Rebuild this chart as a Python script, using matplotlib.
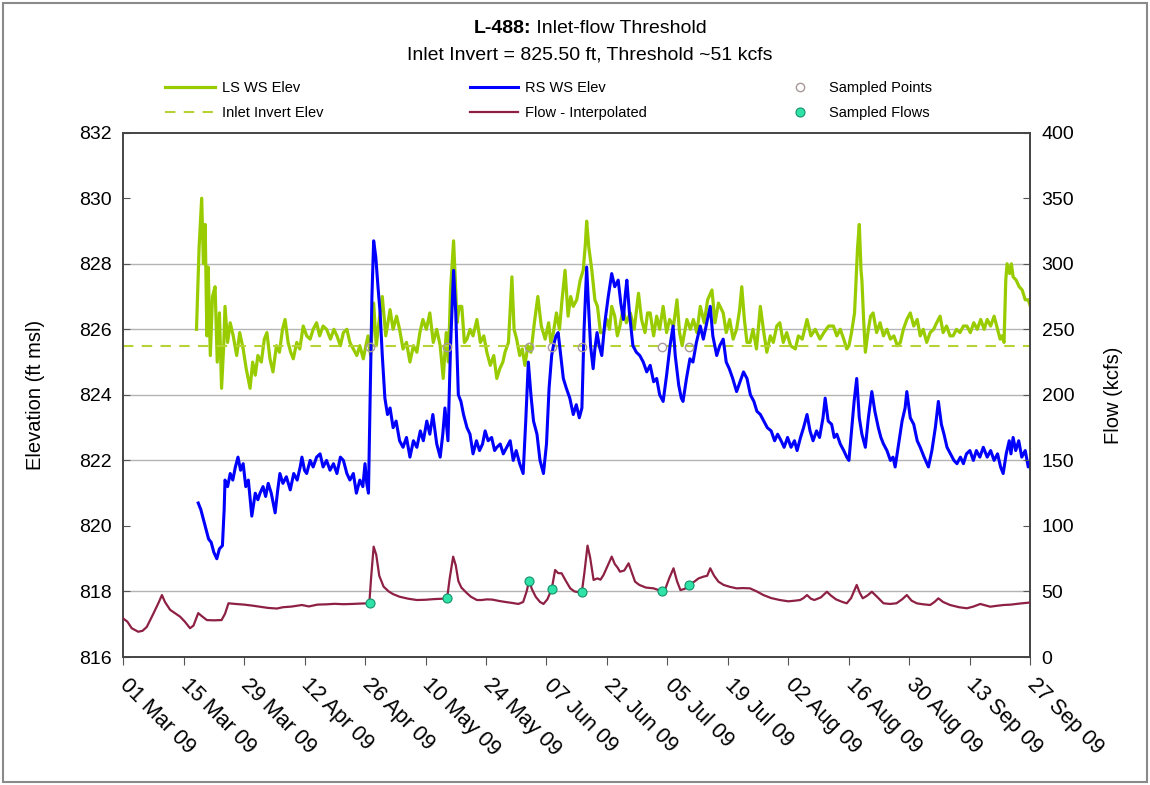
import numpy as np
import pandas as pd
import matplotlib
matplotlib.use('Agg')
import matplotlib.pyplot as plt
import matplotlib.dates as mdates
from matplotlib.patches import Rectangle

plt.rcParams['font.family'] = ['Liberation Sans', 'DejaVu Sans']

# day offsets are counted from 01 Mar 2009
start = pd.Timestamp('2009-03-01')

# LS WS Elev (ft msl) : (day, elevation)
ls_points = [
    (17.0, 826.0), (17.6, 828.5), (18.2, 830.0), (18.6, 828.0), (19.0, 829.2), (19.4, 825.8),
    (19.7, 827.9), (20.2, 825.2), (20.7, 827.0), (21.3, 827.3), (21.8, 825.0), (22.3, 826.5),
    (22.8, 824.2), (23.3, 825.5), (23.6, 826.7), (24.2, 825.6), (24.8, 826.2), (25.5, 825.8),
    (26.3, 825.2), (27.0, 825.9), (27.8, 825.4), (28.5, 824.8), (29.4, 824.2), (30.0, 825.0),
    (30.6, 824.6), (31.2, 825.2), (32.0, 825.0), (32.7, 825.7), (33.3, 825.9), (34.0, 825.1),
    (34.7, 824.7), (35.5, 825.5), (36.2, 825.3), (36.9, 826.0), (37.5, 826.3), (38.2, 825.6),
    (38.8, 825.3), (39.4, 825.1), (40.2, 825.6), (40.9, 825.4), (41.7, 826.1), (42.5, 825.8),
    (43.3, 825.7), (44.0, 826.0), (44.8, 826.2), (45.5, 825.8), (46.3, 826.1), (47.1, 826.0),
    (48.0, 825.7), (48.8, 826.0), (49.5, 825.8), (50.3, 825.5), (51.0, 825.9), (51.8, 826.0),
    (52.5, 825.6), (53.3, 825.4), (54.1, 825.2), (54.8, 825.5), (55.6, 825.1), (56.2, 825.5),
    (56.7, 825.8), (57.3, 825.2), (58.0, 826.8), (58.6, 825.5), (59.3, 826.3), (60.0, 827.0),
    (60.8, 825.8), (61.8, 826.6), (62.5, 826.0), (63.3, 826.4), (64.0, 826.0), (64.8, 825.4),
    (65.6, 825.6), (66.4, 825.0), (67.2, 825.5), (68.0, 825.3), (68.7, 825.9), (69.4, 826.3),
    (70.2, 826.0), (71.0, 826.5), (71.8, 825.6), (72.6, 826.0), (73.4, 825.5), (74.1, 824.5),
    (74.8, 825.9), (75.3, 825.0), (75.8, 827.2), (76.5, 828.7), (76.9, 827.5), (77.3, 826.2),
    (77.8, 826.7), (78.4, 826.7), (79.0, 825.6), (79.6, 825.7), (80.3, 826.0), (81.0, 825.8),
    (81.9, 826.3), (82.7, 825.6), (83.5, 825.8), (84.2, 825.3), (85.0, 824.9), (85.8, 825.2),
    (86.5, 824.5), (87.2, 824.8), (87.9, 825.0), (88.4, 825.3), (89.2, 825.6), (90.0, 827.6),
    (90.5, 826.0), (91.1, 825.7), (91.8, 825.2), (92.4, 825.4), (93.0, 824.9), (93.7, 825.5),
    (94.4, 825.3), (95.2, 826.2), (96.0, 827.0), (96.8, 826.1), (97.7, 825.7), (98.5, 826.2),
    (99.0, 825.6), (99.6, 825.9), (100.3, 826.5), (101.0, 826.0), (101.6, 826.9), (102.3, 827.8),
    (103.0, 826.4), (103.6, 827.0), (104.2, 826.7), (105.0, 826.9), (105.8, 827.5), (106.5, 827.8),
    (107.0, 828.6), (107.3, 829.3), (107.8, 828.5), (108.5, 827.8), (109.2, 826.9), (109.8, 826.7),
    (110.5, 825.9), (111.2, 825.9), (112.0, 826.3), (112.6, 826.0), (113.1, 826.7), (113.8, 826.4),
    (114.4, 825.8), (115.0, 826.1), (115.7, 826.6), (116.5, 826.2), (117.4, 826.5), (118.3, 826.0),
    (119.3, 827.1), (120.0, 826.3), (120.8, 825.9), (121.4, 826.5), (122.0, 826.5), (122.8, 825.8),
    (123.5, 826.4), (124.2, 826.0), (125.0, 826.7), (125.8, 825.9), (126.5, 826.3), (127.4, 826.1),
    (128.2, 826.9), (128.8, 825.9), (129.4, 825.5), (130.5, 826.3), (131.3, 826.0), (132.0, 826.3),
    (132.8, 825.9), (133.6, 826.7), (134.5, 826.2), (135.3, 826.9), (136.3, 827.2), (137.0, 826.2),
    (137.8, 826.8), (138.9, 826.5), (139.6, 825.9), (140.4, 826.3), (141.2, 825.7), (142.0, 826.0),
    (142.7, 826.6), (143.2, 827.3), (143.8, 826.3), (144.4, 825.6), (145.1, 825.6), (145.8, 826.0),
    (146.6, 825.4), (147.5, 826.7), (148.3, 825.9), (149.0, 825.3), (149.8, 825.8), (150.5, 825.6),
    (151.3, 826.1), (152.0, 826.2), (152.8, 825.6), (153.6, 825.9), (154.5, 825.5), (155.6, 825.4),
    (156.3, 825.8), (157.2, 825.7), (158.3, 826.3), (159.2, 825.8), (160.2, 826.0), (161.3, 825.7),
    (162.2, 825.9), (163.3, 826.1), (164.4, 826.1), (165.2, 825.8), (166.0, 826.0), (166.8, 825.7),
    (167.5, 825.4), (168.0, 825.5), (168.6, 825.9), (169.3, 826.5), (170.0, 828.5), (170.4, 829.2),
    (170.8, 827.8), (171.0, 827.5), (171.4, 826.3), (171.8, 825.3), (172.5, 826.0), (173.0, 826.4),
    (173.6, 826.5), (174.4, 825.9), (175.2, 826.2), (176.0, 825.8), (176.8, 826.0), (177.6, 825.7),
    (178.4, 825.8), (179.2, 825.5), (179.9, 825.6), (180.6, 826.0), (181.4, 826.3), (182.2, 826.5),
    (183.0, 826.1), (183.8, 826.3), (184.5, 825.8), (185.2, 826.0), (186.0, 825.6), (186.8, 825.9),
    (187.6, 826.0), (188.3, 826.2), (189.1, 826.4), (189.8, 825.9), (190.6, 826.1), (191.4, 825.8),
    (192.1, 825.8), (192.9, 826.0), (193.7, 825.9), (194.5, 826.1), (195.3, 826.1), (196.1, 825.9),
    (196.9, 826.2), (197.7, 826.0), (198.5, 826.3), (199.3, 826.0), (200.0, 826.3), (200.8, 826.1),
    (201.6, 826.4), (202.4, 826.0), (203.0, 825.7), (203.4, 825.8), (203.9, 825.6), (204.3, 827.5),
    (204.6, 828.0), (205.2, 827.7), (205.6, 828.0), (206.0, 827.6), (206.7, 827.5), (207.4, 827.3),
    (208.1, 827.2), (208.8, 826.9), (209.5, 826.9), (210.0, 826.7),
]

# RS WS Elev (ft msl) : (day, elevation)
rs_points = [
    (17.4, 820.7), (18.0, 820.5), (18.6, 820.2), (19.2, 819.9), (19.8, 819.6), (20.4, 819.5),
    (21.0, 819.2), (21.7, 819.0), (22.3, 819.3), (23.0, 819.4), (23.4, 820.5), (23.6, 821.4),
    (24.2, 821.2), (24.8, 821.6), (25.4, 821.4), (26.0, 821.8), (26.6, 822.1), (27.2, 821.7),
    (27.8, 821.9), (28.4, 821.2), (29.0, 821.4), (29.8, 820.3), (30.6, 821.0), (31.2, 820.8),
    (31.7, 821.0), (32.4, 821.2), (33.0, 820.9), (33.6, 821.3), (34.3, 821.0), (35.2, 820.4),
    (35.8, 821.1), (36.3, 821.6), (37.0, 821.3), (37.8, 821.5), (38.7, 821.1), (39.5, 821.6),
    (40.3, 821.4), (41.0, 821.8), (41.4, 822.1), (42.0, 821.7), (42.5, 821.6), (43.3, 822.0),
    (44.0, 821.8), (44.8, 822.1), (45.6, 822.2), (46.3, 821.8), (47.1, 822.0), (47.9, 821.7),
    (48.7, 821.9), (49.5, 821.6), (50.3, 822.1), (51.0, 822.0), (51.8, 821.6), (52.5, 821.4),
    (53.3, 821.6), (54.0, 821.0), (54.8, 821.4), (55.5, 821.2), (56.0, 821.9), (56.4, 821.3),
    (56.8, 821.0), (57.2, 824.0), (57.6, 827.0), (58.0, 828.7), (58.5, 828.2), (59.0, 827.3),
    (59.5, 826.5), (60.0, 825.2), (60.6, 823.9), (61.2, 823.4), (61.8, 823.6), (62.5, 823.0),
    (63.2, 823.2), (64.0, 822.6), (64.8, 822.4), (65.6, 822.7), (66.4, 822.1), (67.2, 822.6),
    (68.0, 822.4), (68.8, 822.9), (69.5, 822.6), (70.3, 823.2), (71.0, 822.8), (71.7, 823.4),
    (72.6, 822.5), (73.4, 822.1), (74.0, 822.8), (74.5, 823.6), (75.2, 822.6), (75.8, 825.5),
    (76.5, 827.8), (77.0, 826.5), (77.6, 824.0), (78.2, 823.8), (78.8, 823.4), (79.6, 823.0),
    (80.3, 822.8), (81.0, 822.2), (81.8, 822.6), (82.5, 822.3), (83.2, 822.5), (83.8, 822.9),
    (84.5, 822.6), (85.3, 822.7), (86.0, 822.3), (86.5, 822.4), (87.3, 822.5), (88.0, 822.2),
    (88.8, 822.4), (89.6, 822.6), (90.3, 822.0), (91.0, 822.3), (91.8, 821.9), (92.6, 821.6),
    (93.2, 823.2), (93.8, 825.0), (94.4, 824.0), (95.0, 823.2), (95.8, 822.8), (96.5, 822.0),
    (97.3, 821.6), (98.0, 822.5), (98.6, 824.2), (99.2, 825.2), (99.6, 825.5), (100.2, 825.8),
    (100.7, 825.9), (101.3, 825.2), (101.9, 824.5), (102.6, 824.2), (103.4, 823.9), (104.2, 823.4),
    (104.9, 823.7), (105.6, 823.3), (106.2, 823.6), (106.7, 826.0), (107.3, 827.9), (107.7, 826.8),
    (108.2, 825.5), (108.8, 824.8), (109.2, 825.4), (109.7, 825.9), (110.2, 825.5), (110.8, 825.2),
    (111.5, 826.2), (112.3, 827.0), (113.1, 827.7), (113.8, 827.3), (114.6, 827.5), (115.2, 826.8),
    (115.8, 826.3), (116.2, 827.0), (116.6, 827.5), (117.2, 826.5), (118.0, 825.5), (118.8, 825.3),
    (119.6, 825.2), (120.4, 825.0), (121.2, 824.7), (122.0, 824.9), (122.8, 824.4), (123.5, 824.5),
    (124.2, 824.0), (125.0, 823.8), (125.8, 824.6), (126.6, 825.5), (127.3, 826.1), (127.8, 825.2),
    (128.6, 824.3), (129.2, 823.9), (129.6, 823.8), (130.4, 824.5), (131.2, 825.1), (131.9, 825.0),
    (132.7, 825.6), (133.6, 826.1), (134.3, 825.7), (135.1, 826.2), (135.9, 826.7), (136.5, 825.8),
    (137.4, 825.2), (138.1, 825.5), (138.9, 825.7), (139.6, 825.0), (140.3, 824.8), (141.1, 824.5),
    (142.0, 824.1), (142.8, 824.4), (143.6, 824.7), (144.4, 824.5), (145.2, 824.0), (146.0, 823.8),
    (146.7, 823.5), (147.5, 823.4), (148.3, 823.2), (149.1, 823.0), (150.0, 822.9), (150.8, 822.6),
    (151.5, 822.8), (152.3, 822.6), (153.0, 822.4), (153.8, 822.7), (154.6, 822.4), (155.4, 822.6),
    (156.0, 822.3), (156.8, 822.7), (157.5, 823.0), (158.3, 823.4), (159.0, 822.9), (159.7, 822.6),
    (160.5, 822.9), (161.2, 822.7), (162.0, 823.3), (162.5, 823.9), (163.2, 823.2), (164.0, 823.1),
    (164.6, 822.7), (165.2, 822.8), (166.0, 822.5), (166.8, 822.3), (167.5, 822.1), (168.0, 822.0),
    (168.6, 822.9), (169.2, 823.8), (169.8, 824.5), (170.4, 823.3), (171.0, 822.8), (171.8, 822.4),
    (172.5, 823.3), (173.3, 824.1), (174.0, 823.5), (174.8, 823.0), (175.4, 822.7), (176.0, 822.5),
    (176.8, 822.3), (177.6, 822.0), (178.2, 822.1), (178.7, 821.8), (179.5, 822.5), (180.3, 823.2),
    (181.0, 823.6), (181.4, 824.1), (182.2, 823.3), (183.0, 823.1), (183.8, 822.6), (184.5, 822.4),
    (185.4, 822.1), (186.4, 821.8), (187.2, 822.3), (188.0, 823.0), (188.7, 823.8), (189.4, 823.1),
    (190.0, 822.8), (190.7, 822.4), (191.5, 822.2), (192.3, 822.0), (193.0, 821.9), (193.8, 822.1),
    (194.5, 821.9), (195.2, 822.2), (196.0, 822.3), (196.8, 822.0), (197.5, 822.3), (198.3, 822.1),
    (199.1, 822.4), (200.0, 822.1), (200.8, 822.3), (201.6, 822.0), (202.4, 822.2), (203.1, 821.8),
    (203.7, 821.6), (204.4, 822.2), (205.1, 822.6), (205.5, 822.2), (206.0, 822.7), (206.6, 822.3),
    (207.3, 822.6), (208.0, 822.1), (208.8, 822.3), (209.5, 821.8), (210.0, 822.0),
]

# Flow - Interpolated (kcfs) : (day, flow)
flow_points = [
    (0.0, 29.5), (1.0, 27), (2.0, 22), (3.5, 19.3), (4.5, 20), (5.5, 23), (7.0, 33), (8.3, 42),
    (9.0, 47.3), (9.7, 42), (10.9, 36), (12.0, 33.5), (13.2, 30.8), (14.3, 27), (15.5, 22),
    (16.3, 24), (17.4, 33.5), (18.3, 31), (19.4, 28.2), (21.0, 28), (22.8, 28.2), (23.6, 33),
    (24.4, 41), (26.0, 40.5), (28.0, 40), (30.0, 39.2), (31.7, 38.4), (33.5, 37.5), (35.6, 37),
    (37.0, 38), (39.0, 38.5), (41.4, 39.7), (43.0, 38.6), (45.0, 40), (47.0, 40.2), (49.0, 40.6),
    (51.0, 40.3), (53.0, 40.5), (55.0, 40.8), (57.0, 41), (57.4, 60), (58.0, 84.2), (58.6, 78),
    (59.3, 62), (60.3, 53.7), (61.5, 50), (62.5, 48), (64.0, 46), (66.0, 44.5), (68.0, 43.5),
    (70.0, 43.7), (72.0, 44.2), (74.0, 44.5), (75.0, 44.8), (75.6, 60), (76.4, 76.6), (77.0, 70),
    (77.6, 58), (78.3, 53), (79.5, 49), (80.5, 46), (81.9, 43.5), (83.0, 43.5), (84.2, 44),
    (85.5, 43.8), (87.0, 42.8), (88.5, 42), (90.0, 41.3), (91.5, 40.5), (92.6, 42), (93.4, 50),
    (94.0, 58.3), (94.6, 52), (95.5, 46), (96.5, 42), (97.3, 40.5), (98.2, 44), (99.2, 51.7),
    (100.0, 66.4), (100.7, 64), (101.5, 63.9), (102.5, 58), (103.5, 52.4), (104.5, 50),
    (105.5, 49.5), (106.2, 49.8), (106.8, 65), (107.5, 85), (108.1, 76), (108.9, 58.8),
    (109.8, 60), (110.5, 59), (111.2, 62.6), (112.2, 70), (113.1, 76.6), (113.8, 71), (114.5, 68),
    (115.0, 65.1), (116.0, 66), (117.0, 71.5), (117.8, 64), (118.5, 57.5), (119.5, 55),
    (121.0, 53), (122.8, 52.4), (124.0, 51), (124.7, 49.8), (125.5, 52), (126.4, 60),
    (127.4, 67.7), (128.2, 58), (129.0, 51.1), (130.0, 52), (130.9, 55), (132.0, 57), (133.2, 60),
    (134.3, 61.3), (135.2, 62), (135.9, 67.7), (136.8, 62), (137.8, 57.5), (139.0, 55),
    (140.5, 53.5), (142.0, 52.4), (143.5, 52.6), (145.1, 52.4), (146.7, 50), (148.2, 47.3),
    (150.0, 45), (152.0, 43.5), (154.0, 42.5), (155.5, 43), (156.7, 43.5), (157.5, 45),
    (158.3, 47.3), (159.2, 44.5), (160.0, 43.5), (161.5, 45.5), (162.9, 49.8), (163.8, 47),
    (165.0, 44), (166.5, 42), (167.5, 41), (168.5, 45), (169.8, 55), (170.5, 49), (171.2, 44.8),
    (172.3, 47), (173.3, 49.8), (174.5, 46), (176.0, 41), (177.5, 40.5), (179.0, 41), (180.3, 44),
    (181.4, 47.3), (182.5, 43), (183.7, 41), (185.0, 40.3), (186.8, 39.7), (187.8, 42),
    (188.7, 44.8), (189.8, 42), (191.4, 39.7), (193.5, 38), (195.3, 37.2), (196.8, 38.5),
    (198.4, 40.5), (199.5, 39.5), (200.7, 38.4), (202.0, 39), (203.8, 39.7), (205.5, 40),
    (207.5, 40.8), (209.6, 41.5), (210.0, 41.5),
]

# sampling dates (day) with sampled flow (kcfs)
sample_days = [57.2, 75.0, 94.0, 99.2, 106.2, 124.7, 130.9]
sample_flows = [41, 45, 58, 52, 49.5, 50, 55]
sample_elev = [825.45] * len(sample_days)

invert_elev = 825.50


def to_dates(days):
    return start + pd.to_timedelta(np.array(days, dtype=float), unit='D')


ls_days, ls_elev = zip(*ls_points)
rs_days, rs_elev = zip(*rs_points)
fl_days, fl_vals = zip(*flow_points)

fig = plt.figure(figsize=(11.5, 7.85), dpi=100)
ax = fig.add_axes([0.107, 0.163, 0.789, 0.668])
ax2 = ax.twinx()

# gridlines
for g in [818, 822, 824, 826, 828]:
    ax.axhline(g, color='#b4b4b4', lw=1.0, zorder=0)

x0 = start
x1 = pd.Timestamp('2009-09-27')

l_ls, = ax.plot(to_dates(ls_days), ls_elev, color='#99CC00', lw=2.3, label='LS WS Elev', zorder=2)
l_inv, = ax.plot([x0, x1], [invert_elev, invert_elev], color='#B5D334', lw=1.5,
                 ls=(0, (5, 4)), label='Inlet Invert Elev', zorder=2.5)
l_rs, = ax.plot(to_dates(rs_days), rs_elev, color='#0000FF', lw=2.2, label='RS WS Elev', zorder=3)
l_sp, = ax.plot(to_dates(sample_days), sample_elev, ls='none', marker='o', ms=6,
                mfc='none', mec='#a89a9a', mew=1.0, label='Sampled Points', zorder=4)

l_fl, = ax2.plot(to_dates(fl_days), fl_vals, color='#8E2043', lw=1.6, label='Flow - Interpolated', zorder=3)
l_sf, = ax2.plot(to_dates(sample_days), sample_flows, ls='none', marker='o', ms=6.5,
                 mfc='#2FE3A8', mec='#15916a', mew=0.8, label='Sampled Flows', zorder=4)

ax.set_xlim(x0, x1)
ax.set_ylim(816, 832)
ax2.set_ylim(0, 400)
ax.set_yticks(range(816, 833, 2))
ax2.set_yticks(range(0, 401, 50))

ticks = pd.date_range(x0, x1, freq='14D')
ax.set_xticks(ticks)
ax.xaxis.set_major_formatter(mdates.DateFormatter('%d %b %y'))
for lbl in ax.get_xticklabels():
    lbl.set_rotation(-45)
    lbl.set_ha('left')
    lbl.set_va('center')
    lbl.set_rotation_mode('anchor')
ax.tick_params(axis='x', direction='out', length=6, labelsize=15.5, pad=12, color='#555555')
ax.tick_params(axis='y', direction='in', length=5, labelsize=14, pad=8, color='#555555')
ax2.tick_params(axis='y', direction='in', length=5, labelsize=14, pad=8, color='#555555')

for a in (ax, ax2):
    for s in a.spines.values():
        s.set_color('#444444')
        s.set_linewidth(1.2)

fig.text(0.031, 0.497, 'Elevation (ft msl)', rotation=90, ha='center', va='center', fontsize=14.5)
fig.text(0.968, 0.497, 'Flow (kcfs)', rotation=90, ha='center', va='center', fontsize=14.5)

# title with bold prefix
renderer = fig.canvas.get_renderer()
t_a = fig.text(0, 0.964, 'L-488:', fontsize=14, weight='bold', ha='left', va='center')
t_b = fig.text(0, 0.964, ' Inlet-flow Threshold', fontsize=14, ha='left', va='center')
wa = t_a.get_window_extent(renderer).width
wb = t_b.get_window_extent(renderer).width
fw = fig.get_figwidth() * fig.dpi
left = 0.513 - (wa + wb) / 2 / fw
t_a.set_x(left)
t_b.set_x(left + wa / fw)
fig.text(0.513, 0.930, 'Inlet Invert = 825.50 ft, Threshold ~51 kcfs', fontsize=14,
         ha='center', va='center')

# legend in three columns
leg_kw = dict(frameon=False, fontsize=10.5, loc='upper left', borderaxespad=0,
              borderpad=0, labelspacing=0.75)
fig.legend([l_ls, l_inv], ['LS WS Elev', 'Inlet Invert Elev'],
           bbox_to_anchor=(0.1435, 0.897), handlelength=3.4, handletextpad=0.5, **leg_kw)
fig.legend([l_rs, l_fl], ['RS WS Elev', 'Flow - Interpolated'],
           bbox_to_anchor=(0.4087, 0.897), handlelength=3.3, handletextpad=0.5, **leg_kw)
fig.legend([l_sp, l_sf], ['Sampled Points', 'Sampled Flows'],
           bbox_to_anchor=(0.688, 0.897), handlelength=1.2, handletextpad=1.4, **leg_kw)

# outer frame
fig.patches.append(Rectangle((0.003, 0.004), 0.994, 0.992, transform=fig.transFigure,
                             fill=False, edgecolor='#8a8a8a', lw=1.5))

fig.savefig('out.png', dpi=100)
